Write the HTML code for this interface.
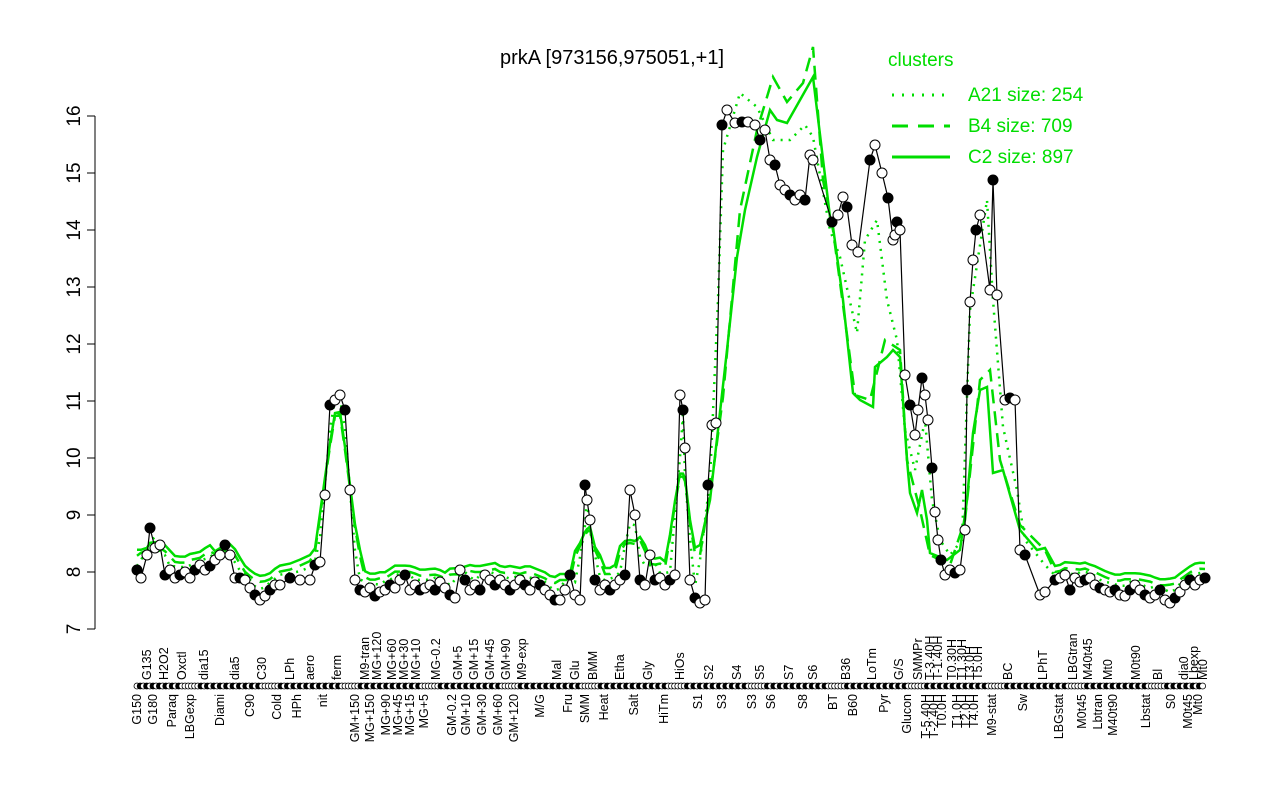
<!DOCTYPE html>
<html><head><meta charset="utf-8"><style>
body{margin:0;background:#fff;}
svg{display:block;font-family:"Liberation Sans",sans-serif;}
</style></head><body>
<svg id="s" width="1280" height="800" xmlns="http://www.w3.org/2000/svg">
<rect width="1280" height="800" fill="#fff"/>
<text x="612" y="64" font-size="20" text-anchor="middle">prkA [973156,975051,+1]</text>
<g stroke="#000" stroke-width="1" fill="none">
<line x1="95" y1="116" x2="95" y2="629"/>
<line x1="95" y1="629" x2="87" y2="629"/><line x1="95" y1="572" x2="87" y2="572"/>
<line x1="95" y1="515" x2="87" y2="515"/><line x1="95" y1="458" x2="87" y2="458"/>
<line x1="95" y1="401" x2="87" y2="401"/><line x1="95" y1="344" x2="87" y2="344"/>
<line x1="95" y1="287" x2="87" y2="287"/><line x1="95" y1="230" x2="87" y2="230"/>
<line x1="95" y1="173" x2="87" y2="173"/><line x1="95" y1="116" x2="87" y2="116"/>
</g>
<g font-size="19" text-anchor="middle">
<text transform="translate(80,629) rotate(-90)">7</text>
<text transform="translate(80,572) rotate(-90)">8</text>
<text transform="translate(80,515) rotate(-90)">9</text>
<text transform="translate(80,458) rotate(-90)">10</text>
<text transform="translate(80,401) rotate(-90)">11</text>
<text transform="translate(80,344) rotate(-90)">12</text>
<text transform="translate(80,287) rotate(-90)">13</text>
<text transform="translate(80,230) rotate(-90)">14</text>
<text transform="translate(80,173) rotate(-90)">15</text>
<text transform="translate(80,116) rotate(-90)">16</text>
</g>
<g id="lines"></g>
<g id="pts"></g>
<g id="labs" font-size="12.5"></g>
<g font-size="19" fill="#00dd00">
<text x="888" y="66">clusters</text>
<line x1="892" y1="95" x2="950" y2="95" stroke="#00dd00" stroke-width="3" stroke-dasharray="2,8"/>
<text x="968" y="101">A21 size: 254</text>
<line x1="892" y1="126" x2="950" y2="126" stroke="#00dd00" stroke-width="3" stroke-dasharray="16,10"/>
<text x="968" y="132">B4 size: 709</text>
<line x1="892" y1="157" x2="950" y2="157" stroke="#00dd00" stroke-width="3"/>
<text x="968" y="163">C2 size: 897</text>
</g>
</svg>
<script>
var P=[[137,570],[141,578],[147,555],[150,528],[155,548],[160,545],[165,575],[170,570],[175,578],[180,575],[185,572],[190,578],[195,570],[200,565],[205,570],[210,566],[215,560],[220,555],[225,545],[230,555],[235,578],[240,578],[245,580],[250,588],[255,595],[260,600],[265,596],[270,590],[275,585],[280,585],[290,578],[300,580],[310,580],[315,565],[320,562],[325,495],[330,405],[335,400],[340,395],[345,410],[350,490],[355,580],[360,590],[365,592],[370,588],[375,596],[380,592],[385,590],[390,585],[395,588],[400,580],[405,575],[410,590],[415,585],[420,590],[425,588],[430,585],[435,590],[440,582],[445,588],[450,595],[455,598],[460,570],[465,580],[470,590],[475,585],[480,590],[485,575],[490,580],[495,585],[500,580],[505,585],[510,590],[515,585],[520,580],[525,585],[530,590],[535,582],[540,585],[545,590],[550,595],[555,600],[560,600],[565,590],[570,575],[575,595],[580,600],[585,485],[587,500],[590,520],[595,580],[600,590],[605,585],[610,590],[615,585],[620,580],[625,575],[630,490],[635,515],[640,580],[645,585],[650,555],[655,580],[660,578],[665,585],[670,580],[675,575],[680,395],[683,410],[685,448],[690,580],[695,598],[700,603],[705,600],[708,485],[712,425],[716,423],[722,125],[727,110],[735,123],[742,122],[748,122],[755,125],[760,140],[765,130],[770,160],[775,165],[780,185],[785,190],[790,195],[795,200],[800,195],[805,200],[810,155],[813,160],[832,222],[838,215],[843,197],[847,207],[852,245],[858,252],[870,160],[875,145],[882,173],[888,198],[893,240],[895,235],[897,222],[900,230],[905,375],[910,405],[915,435],[918,410],[922,378],[925,395],[928,420],[932,468],[935,512],[938,540],[941,560],[945,575],[950,570],[955,573],[960,570],[965,530],[967,390],[970,302],[973,260],[976,230],[980,215],[990,290],[993,180],[997,295],[1005,400],[1010,398],[1015,400],[1020,550],[1025,555],[1040,595],[1045,592],[1055,580],[1060,578],[1065,575],[1070,590],[1075,578],[1080,582],[1085,580],[1090,578],[1095,585],[1100,588],[1105,590],[1110,592],[1115,590],[1120,595],[1125,596],[1130,590],[1135,585],[1140,590],[1145,595],[1150,598],[1155,595],[1160,590],[1165,600],[1170,603],[1175,598],[1180,592],[1185,585],[1190,580],[1195,585],[1200,580],[1205,578]];
function sm(i,k){var s=0,n=0;for(var j=Math.max(0,i-k);j<=Math.min(P.length-1,i+k);j++){s+=P[j][1];n++;}return s/n;}
function build(k,offHi,offLo,expl){var a=[];P.forEach(function(p,i){if(p[0]<697||p[0]>1047){var v=sm(i,k);a.push([p[0],v-(v>560?offHi:offLo)]);}});
a=a.concat(expl);a.sort(function(x,y){return x[0]-y[0]});return 'M'+a.map(function(p){return p[0]+','+p[1].toFixed(1)}).join(' L');}
var C2=[[700,545],[710,500],[718,430],[727,350],[737,257],[745,210],[757,157],[770,110],[777,120],[787,123],[800,100],[813,77],[830,217],[833,227],[843,300],[853,393],[860,400],[873,407],[875,367],[887,357],[893,350],[900,357],[907,460],[910,493],[917,513],[922,490],[927,520],[930,553],[947,560],[960,550],[967,500],[973,433],[980,390],[987,387],[993,473],[1003,470],[1020,530],[1037,550],[1045,548]];
var B4=[[700,555],[712,480],[723,397],[740,210],[757,130],[767,97],[773,77],[787,102],[803,83],[813,47],[823,180],[833,230],[845,320],[855,395],[870,400],[885,340],[900,350],[907,460],[920,510],[930,555],[950,565],[965,520],[980,380],[990,370],[1000,460],[1020,525],[1045,550]];
var A21=[[700,560],[710,480],[718,300],[723,150],[740,93],[757,107],[773,140],[790,140],[805,125],[813,137],[830,230],[840,257],[857,333],[865,240],[877,220],[887,300],[897,340],[905,430],[915,470],[925,420],[932,500],[940,540],[950,555],[962,540],[970,310],[987,200],[993,300],[1003,427],[1017,490],[1025,540],[1045,565]];
var h='';
h+='<path d="'+build(2,18,8,C2)+'" stroke="#00dd00" stroke-width="2.5" fill="none"/>';
h+='<path d="'+build(2,12,5,B4)+'" stroke="#00dd00" stroke-width="2.5" stroke-dasharray="14,8" fill="none"/>';
h+='<path d="'+build(1,8,3,A21)+'" stroke="#00dd00" stroke-width="2.5" stroke-dasharray="2,6" fill="none"/>';
h+='<path d="M'+P.map(function(p){return p[0]+','+p[1]}).join(' L')+'" stroke="#000" stroke-width="1.2" fill="none"/>';
document.getElementById('lines').innerHTML=h;
var g='';P.forEach(function(p,i){var f=(i%3==0)?'#000':'#fff';g+='<circle cx="'+p[0]+'" cy="'+p[1]+'" r="5" fill="'+f+'" stroke="#000"/>';});
for(var x=137;x<=1205;x+=3.2){var k=Math.floor(x*7)%5;var f=k<2?'#000':'#fff';g+='<circle cx="'+x.toFixed(1)+'" cy="686" r="3" fill="'+f+'" stroke="#000" stroke-width="0.8"/>';}
document.getElementById('pts').innerHTML=g;
var lab=[[137,'G150'],[147,'G135'],[153,'G180'],[164,'H2O2'],[172,'Paraq'],[182,'Oxctl'],[190,'LBGexp'],[204,'dia15'],[220,'Diami'],[235,'dia5'],[250,'C90'],[262,'C30'],[277,'Cold'],[290,'LPh'],[297,'HPh'],[310,'aero'],[323,'nit'],[337,'ferm'],[355,'GM+150'],[365,'M9-tran'],[370,'MG+150'],[377,'MG+120'],[386,'MG+90'],[392,'MG+60'],[398,'MG+45'],[404,'MG+30'],[410,'MG+15'],[416,'MG+10'],[424,'MG+5'],[436,'MG-0.2'],[452,'GM-0.2'],[458,'GM+5'],[466,'GM+10'],[474,'GM+15'],[482,'GM+30'],[490,'GM+45'],[498,'GM+60'],[506,'GM+90'],[514,'GM+120'],[522,'M9-exp'],[540,'M/G'],[557,'Mal'],[568,'Fru'],[575,'Glu'],[585,'SMM'],[593,'BMM'],[604,'Heat'],[620,'Etha'],[634,'Salt'],[648,'Gly'],[664,'HiTm'],[680,'HiOs'],[698,'S1'],[709,'S2'],[722,'S3'],[737,'S4'],[752,'S3'],[760,'S5'],[771,'S6'],[789,'S7'],[803,'S8'],[813,'S6'],[833,'BT'],[846,'B36'],[853,'B60'],[872,'LoTm'],[884,'Pyr'],[899,'G/S'],[907,'Glucon'],[918,'SMMPr'],[926,'T-5.40H'],[930,'T-3.40H'],[934,'T-2.40H'],[938,'T-1.40H'],[942,'T0.0H'],[952,'T0.30H'],[957,'T1.0H'],[962,'T1.30H'],[966,'T2.0H'],[970,'T3.0H'],[974,'T4.0H'],[978,'T5.0H'],[992,'M9-stat'],[1008,'BC'],[1023,'Sw'],[1043,'LPhT'],[1059,'LBGstat'],[1073,'LBGtran'],[1082,'M0t45'],[1088,'M40t45'],[1098,'Lbtran'],[1108,'Mt0'],[1113,'M40t90'],[1136,'M0t90'],[1146,'Lbstat'],[1158,'Bl'],[1171,'S0'],[1184,'dia0'],[1188,'M0t45'],[1194,'Lbexp'],[1198,'Mt0'],[1203,'Mt0']];
var t='';lab.forEach(function(l,i){
if(i%2==0) t+='<text transform="translate('+(l[0]+4)+',694) rotate(-90)" text-anchor="end">'+l[1]+'</text>';
else t+='<text transform="translate('+(l[0]+4)+',680) rotate(-90)" text-anchor="start">'+l[1]+'</text>';});
document.getElementById('labs').innerHTML=t;
</script>
</body></html>
